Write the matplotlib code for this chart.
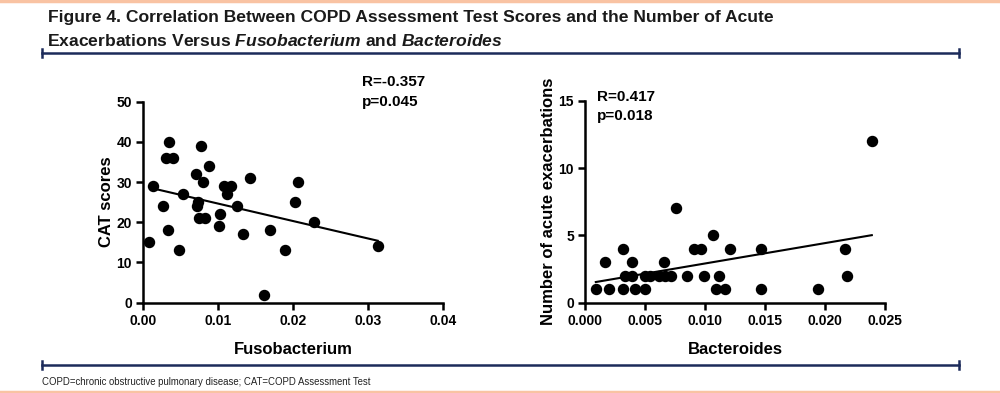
import numpy as np
import matplotlib.pyplot as plt
from matplotlib.lines import Line2D

plt.rcParams['font.family'] = ['Liberation Sans', 'DejaVu Sans']
plt.rcParams['mathtext.fontset'] = 'custom'
plt.rcParams['mathtext.it'] = 'Liberation Sans:italic:bold'
plt.rcParams['mathtext.rm'] = 'Liberation Sans:bold'

# Fusobacterium vs CAT scores
fuso = [0.0008, 0.0013, 0.0027, 0.0033, 0.0031, 0.0034, 0.0040, 0.0048, 0.0053, 0.0070,
        0.0072, 0.0073, 0.0074, 0.0077, 0.0080, 0.0082, 0.0088, 0.0101, 0.0102, 0.0108,
        0.0112, 0.0117, 0.0125, 0.0133, 0.0142, 0.0162, 0.0169, 0.0189, 0.0203, 0.0207,
        0.0228, 0.0313]
cat = [15, 29, 24, 18, 36, 40, 36, 13, 27, 32,
       24, 25, 21, 39, 30, 21, 34, 19, 22, 29,
       27, 29, 24, 17, 31, 2, 18, 13, 25, 30,
       20, 14]

# Bacteroides vs acute exacerbations
bact = [0.0009, 0.0017, 0.0020, 0.0032, 0.0033, 0.0032, 0.0039, 0.0039, 0.0042, 0.0050,
        0.0050, 0.0054, 0.0062, 0.0066, 0.0067, 0.0072, 0.0076, 0.0085, 0.0091, 0.0097,
        0.0099, 0.0107, 0.0109, 0.0112, 0.0117, 0.0121, 0.0147, 0.0147, 0.0194, 0.0217,
        0.0218, 0.0239]
exac = [1, 3, 1, 4, 2, 1, 3, 2, 1, 1,
        2, 2, 2, 3, 2, 2, 7, 2, 4, 4,
        2, 5, 1, 2, 1, 4, 4, 1, 1, 4,
        2, 12]

navy = '#1c2b5a'
peach = '#f9c3a3'

fig = plt.figure(figsize=(10, 3.93), dpi=100)

fig.text(0.048, 0.955, 'Figure 4. Correlation Between COPD Assessment Test Scores and the Number of Acute',
         fontsize=12.6, fontweight='bold', color='#1a1a1a', va='center')
fig.text(0.047, 0.895, 'Exacerbations Versus $Fusobacterium$ and $Bacteroides$',
         fontsize=12.6, fontweight='bold', color='#1a1a1a', va='center')

# decorative rules
for yy in [1 - 53 / 393, 1 - 365 / 393]:
    fig.add_artist(Line2D([0.042, 0.959], [yy, yy], color=navy, lw=1.8))
    for xx in [0.042, 0.959]:
        fig.add_artist(Line2D([xx, xx], [yy - 0.011, yy + 0.011], color=navy, lw=1.8))
fig.add_artist(Line2D([0, 1], [0.997, 0.997], color=peach, lw=2.5))
fig.add_artist(Line2D([0, 1], [1 - 391.5 / 393, 1 - 391.5 / 393], color=peach, lw=2.5))

fig.text(0.042, 1 - 382 / 393, 'COPD=chronic obstructive pulmonary disease; CAT=COPD Assessment Test',
         fontsize=6.9, va='center', color='#222222')


def style(ax):
    for s in ['top', 'right']:
        ax.spines[s].set_visible(False)
    for s in ['left', 'bottom']:
        ax.spines[s].set_linewidth(1.8)
    ax.tick_params(width=1.8, length=5, labelsize=10, pad=3)
    for lab in ax.get_xticklabels() + ax.get_yticklabels():
        lab.set_fontweight('bold')


ax1 = fig.add_axes([0.143, 0.2298, 0.300, 0.5115])
ax1.scatter(fuso, cat, s=52, color='black', zorder=3, clip_on=False)
k, b = np.polyfit(fuso, cat, 1)
xs = np.array([min(fuso) + 0.0005, max(fuso)])
ax1.plot(xs, k * xs + b, color='black', lw=1.5)
ax1.set_xlim(0, 0.04)
ax1.set_ylim(0, 50)
ax1.set_xticks([0, 0.01, 0.02, 0.03, 0.04])
ax1.set_xticklabels(['0.00', '0.01', '0.02', '0.03', '0.04'])
ax1.set_yticks([0, 10, 20, 30, 40, 50])
ax1.set_xlabel('Fusobacterium', fontsize=12, fontweight='bold', labelpad=10)
ax1.set_ylabel('CAT scores', fontsize=12, fontweight='bold', labelpad=2)
style(ax1)
ax1.text(0.73, 1.10, 'R=-0.357', transform=ax1.transAxes, fontsize=11, fontweight='bold', va='center')
ax1.text(0.73, 1.00, 'p=0.045', transform=ax1.transAxes, fontsize=11, fontweight='bold', va='center')

ax2 = fig.add_axes([0.585, 0.2298, 0.300, 0.514])
ax2.scatter(bact, exac, s=52, color='black', zorder=3, clip_on=False)
k2, b2 = np.polyfit(bact, exac, 1)
xs2 = np.array([min(bact), max(bact)])
ax2.plot(xs2, k2 * xs2 + b2, color='black', lw=1.5)
ax2.set_xlim(0, 0.025)
ax2.set_ylim(0, 15)
ax2.set_xticks([0, 0.005, 0.01, 0.015, 0.02, 0.025])
ax2.set_xticklabels(['0.000', '0.005', '0.010', '0.015', '0.020', '0.025'])
ax2.set_yticks([0, 5, 10, 15])
ax2.set_xlabel('Bacteroides', fontsize=12, fontweight='bold', labelpad=10)
ax2.set_ylabel('Number of acute exacerbations', fontsize=12, fontweight='bold', labelpad=2)
style(ax2)
ax2.text(0.04, 1.02, 'R=0.417', transform=ax2.transAxes, fontsize=11, fontweight='bold', va='center')
ax2.text(0.04, 0.925, 'p=0.018', transform=ax2.transAxes, fontsize=11, fontweight='bold', va='center')

fig.savefig('out.png', dpi=100)
